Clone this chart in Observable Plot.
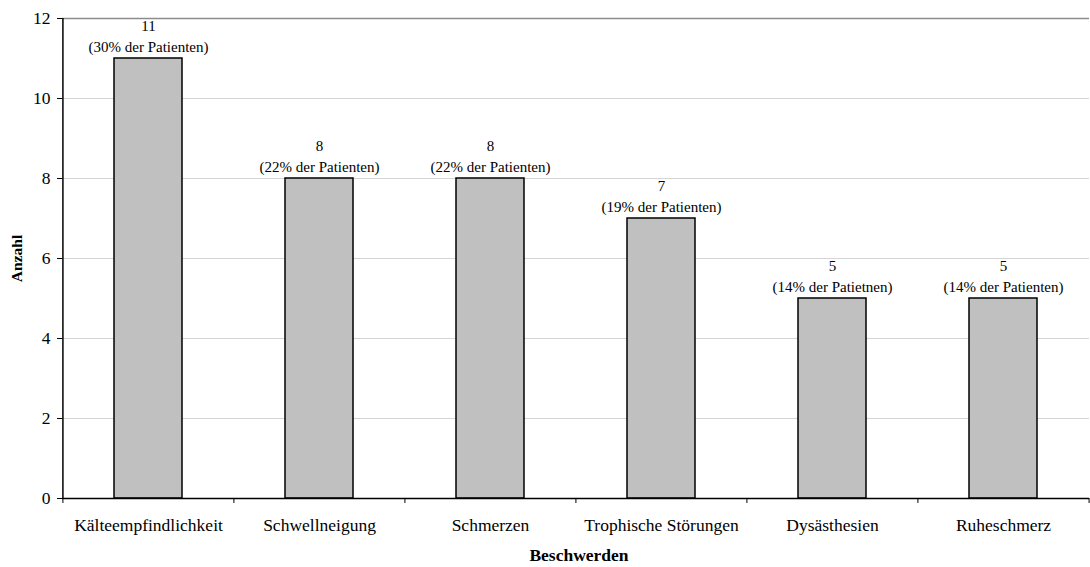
<!DOCTYPE html>
<html>
<head>
<meta charset="utf-8">
<script src="https://cdn.jsdelivr.net/npm/d3@7"></script>
<script src="https://cdn.jsdelivr.net/npm/@observablehq/plot@0.6"></script>
<style>
  html, body { margin: 0; padding: 0; background: #fff; }
  #chart { width: 1090px; height: 567px; }
  #chart svg, #chart svg text { font-family: "Liberation Serif", "Times New Roman", serif; }
</style>
</head>
<body>
<div id="chart"></div>
<script>
const categories = ["Kälteempfindlichkeit", "Schwellneigung", "Schmerzen", "Trophische Störungen", "Dysästhesien", "Ruheschmerz"];
const counts = [11, 8, 8, 7, 5, 5];
const shareLabels = ["(30% der Patienten)", "(22% der Patienten)", "(22% der Patienten)", "(19% der Patienten)", "(14% der Patietnen)", "(14% der Patienten)"];
const yTicks = [0, 2, 4, 6, 8, 10, 12];
const xTitle = "Beschwerden";
const yTitle = "Anzahl";

const data = categories.map((c, i) => ({cat: c, n: counts[i], label: `${counts[i]}\n${shareLabels[i]}`}));

const FONT = "Liberation Serif";
const W = 1090, H = 567, ML = 62, MR = 1, MT = 18, MB = 69;
const step = (W - ML - MR) / categories.length;

const plot = Plot.plot({
  width: W,
  height: H,
  marginLeft: ML,
  marginRight: MR,
  marginTop: MT,
  marginBottom: MB,
  style: {fontFamily: FONT, fontSize: "17px", color: "#000", background: "#fff"},
  x: {domain: categories, paddingInner: 0.6, paddingOuter: 0.3, label: null},
  y: {domain: [0, 12], label: null},
  marks: [
    Plot.ruleY(yTicks.filter(t => t > 0 && t < 12), {stroke: "#d4d4d4", strokeWidth: 1}),
    Plot.ruleY(yTicks.filter(t => t === 12), {stroke: "#8c8c8c", strokeWidth: 1.5}),
    Plot.barY(data, {x: "cat", y: "n", fill: "#c0c0c0", stroke: "#000", strokeWidth: 1.5}),
    Plot.text(data, {x: "cat", y: "n", text: "label", lineAnchor: "bottom", dy: -7, lineHeight: 1.4, fontSize: 15, fontFamily: FONT, fill: "#000"}),
    Plot.ruleY([0], {stroke: "#000", strokeWidth: 1.5}),
    Plot.ruleX(categories.slice(0, 1), {x: d => d, y1: 0, y2: 12, dx: -step / 2, stroke: "#000", strokeWidth: 1.5}),
    Plot.ruleX(categories, {x: d => d, y1: 0, y2: -0.125, dx: -step / 2, stroke: "#000"}),
    Plot.ruleX(categories.slice(-1), {x: d => d, y1: 0, y2: -0.125, dx: step / 2, stroke: "#000"}),
    Plot.axisX({tickSize: 0, tickPadding: 20, label: null, fontSize: 17.5, fontFamily: FONT, fill: "#000"}),
    Plot.axisY({ticks: yTicks, tickSize: 5, tickPadding: 7, label: null, fontSize: 17.5, fontFamily: FONT, fill: "#000", stroke: "#000"}),
    Plot.text([yTitle], {frameAnchor: "left", textAnchor: "middle", lineAnchor: "middle", text: d => d, rotate: -90, dx: -45, fontWeight: "bold", fontSize: 15.5, fontFamily: FONT, fill: "#000"}),
    Plot.text([xTitle], {frameAnchor: "bottom", textAnchor: "middle", lineAnchor: "middle", text: d => d, dy: 57, dx: 3, fontWeight: "bold", fontSize: 17.5, fontFamily: FONT, fill: "#000"})
  ]
});
document.getElementById("chart").appendChild(plot);
</script>
</body>
</html>
